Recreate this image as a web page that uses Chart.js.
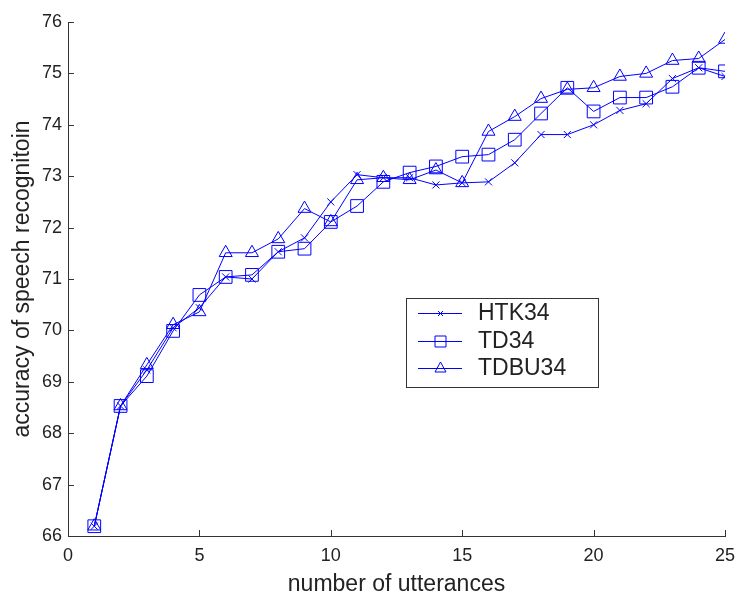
<!DOCTYPE html>
<html>
<head>
<meta charset="utf-8">
<script src="https://cdn.jsdelivr.net/npm/chart.js@4.4.0/dist/chart.umd.min.js"></script>
<style>
  html, body { margin: 0; padding: 0; background: #ffffff; }
  #wrap { width: 736px; height: 596px; }
</style>
</head>
<body>
<div id="wrap"><canvas id="c" width="736" height="596"></canvas></div>
<script>
const utterances = [1,2,3,4,5,6,7,8,9,10,11,12,13,14,15,16,17,18,19,20,21,22,23,24,25];
const htk34 = [66.19,68.53,69.23,70.05,70.44,71.04,71.00,71.53,71.80,72.50,73.03,72.97,72.97,72.83,72.87,72.89,73.26,73.81,73.81,74.00,74.28,74.41,74.90,75.11,74.94];
const td34 = [66.19,68.53,69.11,69.99,70.69,71.04,71.08,71.53,71.59,72.11,72.42,72.89,73.07,73.19,73.38,73.42,73.71,74.22,74.72,74.26,74.53,74.53,74.74,75.11,75.04];
const tdbu34 = [66.19,68.53,69.33,70.11,70.36,71.51,71.51,71.78,72.37,72.11,72.93,72.97,72.93,73.12,72.87,73.87,74.16,74.51,74.69,74.72,74.94,75.00,75.25,75.29,75.66];
const seriesNames = ['HTK34','TD34','TDBU34'];
const xTicks = [0,5,10,15,20,25];
const yTicks = [66,67,68,69,70,71,72,73,74,75,76];

const BLUE = '#0000ff';
const AXIS = '#333333';
const FONT = "'Liberation Sans', Arial, sans-serif";

function pts(vals) { return utterances.map((x, i) => ({x: x, y: vals[i]})); }

const styles = [
  {pointStyle: 'crossRot', radius: 5},
  {pointStyle: 'rect', radius: 9},
  {pointStyle: 'triangle', radius: 7.5}
];

const datasets = [htk34, td34, tdbu34].map((vals, i) => ({
  label: seriesNames[i],
  data: pts(vals),
  borderColor: BLUE,
  backgroundColor: 'rgba(0,0,0,0)',
  borderWidth: 1,
  pointStyle: styles[i].pointStyle,
  pointRadius: styles[i].radius,
  pointBorderColor: BLUE,
  pointBackgroundColor: 'rgba(0,0,0,0)',
  pointBorderWidth: 1,
  tension: 0
}));

function legendMarker(ctx, style, x, y) {
  ctx.save();
  ctx.strokeStyle = BLUE;
  ctx.lineWidth = 1;
  ctx.beginPath();
  if (style === 'crossRot') {
    const d = 2.5;
    ctx.moveTo(x - d, y - d); ctx.lineTo(x + d, y + d);
    ctx.moveTo(x + d, y - d); ctx.lineTo(x - d, y + d);
  } else if (style === 'rect') {
    ctx.rect(x - 5.5, y - 5.5, 11, 11);
  } else {
    ctx.moveTo(x, y - 6.5);
    ctx.lineTo(x + 5.5, y + 3.5);
    ctx.lineTo(x - 5.5, y + 3.5);
    ctx.closePath();
  }
  ctx.stroke();
  ctx.restore();
}

const inwardTicks = {
  id: 'inwardTicks',
  afterDraw(chart) {
    const ctx = chart.ctx;
    const xs = chart.scales.x, ys = chart.scales.y;
    const a = chart.chartArea;
    ctx.save();
    ctx.strokeStyle = AXIS;
    ctx.lineWidth = 1;
    ctx.beginPath();
    xTicks.forEach(v => {
      const px = Math.round(xs.getPixelForValue(v)) + 0.5;
      ctx.moveTo(px, a.bottom);
      ctx.lineTo(px, a.bottom - 6);
    });
    yTicks.forEach(v => {
      const py = Math.round(ys.getPixelForValue(v)) + 0.5;
      ctx.moveTo(a.left, py);
      ctx.lineTo(a.left + 6, py);
    });
    ctx.stroke();

    // legend
    const bx = 406, by = 298, bw = 192, bh = 89;
    ctx.fillStyle = '#ffffff';
    ctx.fillRect(bx, by, bw, bh);
    ctx.strokeStyle = AXIS;
    ctx.strokeRect(bx + 0.5, by + 0.5, bw, bh);
    const rows = [313, 341, 368];
    chart.data.datasets.forEach((ds, i) => {
      const y = rows[i] + 0.5;
      ctx.save();
      ctx.strokeStyle = BLUE;
      ctx.lineWidth = 1;
      ctx.beginPath();
      ctx.moveTo(418, y);
      ctx.lineTo(462, y);
      ctx.stroke();
      ctx.restore();
      legendMarker(ctx, ds.pointStyle, 440.5, y);
      ctx.fillStyle = '#222222';
      ctx.font = "23px " + FONT;
      ctx.textBaseline = 'middle';
      ctx.textAlign = 'left';
      ctx.fillText(ds.label, 478, y + 0.5);
    });
    ctx.restore();
  }
};

const whiteBg = {
  id: 'whiteBg',
  beforeDraw(chart) {
    const ctx = chart.ctx;
    ctx.save();
    ctx.fillStyle = '#ffffff';
    ctx.fillRect(0, 0, chart.width, chart.height);
    ctx.restore();
  }
};

new Chart(document.getElementById('c'), {
  type: 'line',
  data: { datasets: datasets },
  options: {
    responsive: false,
    devicePixelRatio: 1,
    animation: false,
    layout: { padding: { top: 22, right: 11, bottom: 0, left: 0 } },
    plugins: { legend: { display: false }, tooltip: { enabled: false } },
    scales: {
      x: {
        type: 'linear',
        min: 0, max: 25,
        afterBuildTicks(scale) { scale.ticks = xTicks.map(v => ({value: v})); },
        afterFit(scale) { scale.height = 60; scale.paddingLeft = 0; scale.paddingRight = 0; },
        grid: { display: false, drawTicks: false },
        border: { display: true, color: AXIS, width: 1 },
        ticks: { color: '#222222', font: { family: FONT, size: 18 }, padding: 9, maxRotation: 0 },
        title: { display: true, text: 'number of utterances', color: '#222222',
                 font: { family: FONT, size: 23, lineHeight: 1 }, padding: { top: 0, bottom: 0 } }
      },
      y: {
        type: 'linear',
        min: 66, max: 76,
        afterBuildTicks(scale) { scale.ticks = yTicks.map(v => ({value: v})); },
        afterFit(scale) { scale.width = 68; scale.paddingTop = 0; scale.paddingBottom = 0; },
        grid: { display: false, drawTicks: false },
        border: { display: true, color: AXIS, width: 1 },
        ticks: { color: '#222222', font: { family: FONT, size: 18 }, padding: 6 },
        title: { display: true, text: 'accuracy of speech recognitoin', color: '#222222',
                 font: { family: FONT, size: 23, lineHeight: 1 }, padding: { top: 11, bottom: 0 } }
      }
    }
  },
  plugins: [whiteBg, inwardTicks]
});
</script>
</body>
</html>
